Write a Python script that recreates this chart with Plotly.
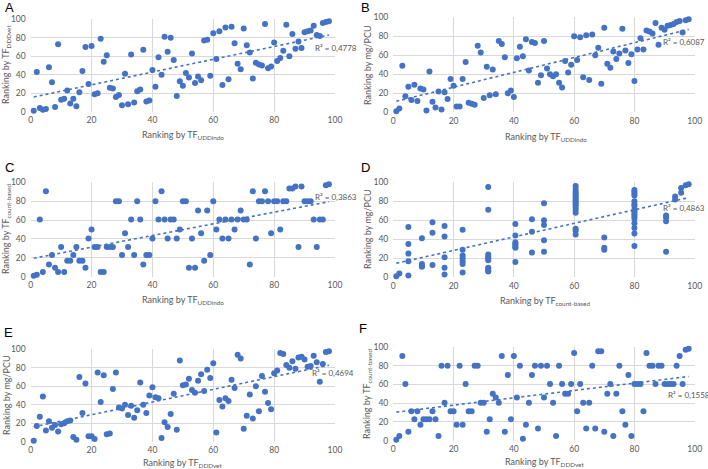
import numpy as np
import plotly.graph_objects as go

# ---------------- data ----------------
rank_x = [1, 2, 3, 4, 5, 6, 7, 8, 9, 10, 11, 12, 13, 14, 15, 16, 17, 18, 19, 20,
          21, 22, 23, 24, 25, 26, 27, 28, 29, 30, 31, 32, 33, 34, 35, 36, 37, 38, 39, 40,
          41, 42, 43, 44, 45, 46, 47, 48, 49, 50, 51, 52, 53, 54, 55, 56, 57, 58, 59, 60,
          61, 62, 63, 64, 65, 66, 67, 68, 69, 70, 71, 72, 73, 74, 75, 76, 77, 78, 79, 80,
          81, 82, 83, 84, 85, 86, 87, 88, 89, 90, 91, 92, 93, 94, 95, 96, 97, 98]

A_y = [1, 43, 4, 2, 3, 48, 32, 5, 73, 13, 14, 23, 9, 14, 6, 21, 44, 70, 30, 71,
       19, 20, 79, 54, 61, 26, 25, 16, 18, 7, 41, 8, 62, 10, 22, 24, 67, 11, 12, 45,
       27, 59, 40, 81, 65, 80, 56, 17, 33, 28, 42, 37, 63, 31, 38, 34, 77, 78, 39, 85,
       57, 87, 29, 91, 35, 92, 74, 52, 46, 90, 72, 64, 36, 53, 51, 50, 95, 47, 49, 75,
       55, 58, 66, 94, 60, 84, 68, 76, 69, 86, 87, 88, 93, 83, 82, 96, 97, 98]

B_y = [1, 4, 49, 17, 27, 13, 29, 12, 25, 24, 2, 43, 11, 5, 22, 3, 21, 14, 35, 28,
       6, 6, 35, 53, 10, 9, 8, 70, 63, 15, 48, 18, 45, 19, 75, 72, 58, 20, 23, 16,
       57, 69, 59, 77, 44, 74, 73, 31, 39, 75, 46, 40, 38, 40, 31, 26, 54, 42, 50, 80,
       55, 79, 37, 81, 34, 82, 60, 68, 30, 89, 51, 47, 64, 56, 62, 88, 65, 52, 61, 33,
       66, 78, 66, 86, 85, 83, 94, 71, 89, 87, 91, 92, 93, 95, 96, 84, 97, 98]

C_y = [1, 2, 60.5, 5, 90.5, 13, 23, 9.5, 5, 31.5, 5, 17, 17, 23, 31.5, 17, 17, 9.5, 40.5, 50,
       31.5, 31.5, 5, 5, 31.5, 31.5, 31.5, 80, 80, 23, 46, 31.5, 60.5, 23, 80, 60.5, 13, 23, 23, 40.5,
       80, 60.5, 90.5, 60.5, 40.5, 60.5, 60.5, 40.5, 50, 80, 80, 9.5, 40.5, 9.5, 70, 46, 17, 70, 23, 80,
       50, 60.5, 40.5, 60.5, 40.5, 60.5, 50, 60.5, 70, 60.5, 60.5, 13, 90.5, 40.5, 80, 80, 90.5, 80, 46, 80,
       80, 50, 80, 80, 93.5, 93.5, 95.5, 31.5, 95.5, 80, 80, 80, 60.5, 31.5, 60.5, 60.5, 97, 98]

D_x = [1, 2,
       5, 5, 5, 5, 5,
       9.5, 9.5, 9.5, 9.5,
       13, 13, 13,
       17, 17, 17, 17, 17,
       23, 23, 23, 23, 23, 23, 23,
       31.5, 31.5, 31.5, 31.5, 31.5, 31.5, 31.5, 31.5, 31.5, 31.5,
       40.5, 40.5, 40.5, 40.5, 40.5, 40.5, 40.5, 40.5,
       46, 46, 46,
       50, 50, 50, 50, 50,
       60.5, 60.5, 60.5, 60.5, 60.5, 60.5, 60.5, 60.5, 60.5, 60.5, 60.5, 60.5, 60.5, 60.5, 60.5, 60.5,
       70, 70, 70,
       80, 80, 80, 80, 80, 80, 80, 80, 80, 80, 80, 80, 80, 80, 80, 80, 80,
       90.5, 90.5, 90.5, 90.5,
       93.5, 93.5,
       95.5, 95.5,
       97, 98]
D_y = [1, 4,
       53, 35, 25, 17, 2,
       41, 14, 12, 11,
       58, 47, 13,
       54, 43, 21, 10, 3,
       50, 29, 23, 20, 17, 14, 5,
       95, 71, 24, 22, 20, 18, 10, 9, 7, 6,
       56, 44, 37, 35, 34, 32, 31, 16,
       61, 48, 26,
       78, 60, 55, 39, 27,
       96, 93, 90, 88, 86, 84, 82, 80, 78, 76, 74, 71, 68, 51, 49, 45,
       42, 31, 29,
       92, 90, 88, 86, 80, 77, 75, 71, 70, 68, 66, 64, 62, 57, 52, 46, 33,
       65, 63, 59, 27,
       85, 82,
       94, 89,
       97, 98]

E_y = [1, 17, 27, 49, 12, 22, 15, 18, 11, 19, 20, 22, 23, 5, 2, 70, 31, 63, 6, 6,
       3, 75, 43, 72, 8, 9, 57, 75, 37, 36, 40, 29, 39, 26, 34, 64, 40, 31, 50, 59,
       48, 47, 4, 21, 16, 30, 52, 13, 88, 61, 62, 68, 56, 53, 66, 73, 55, 78, 69, 85,
       10, 45, 38, 47, 44, 67, 58, 94, 90, 14, 28, 51, 25, 60, 33, 71, 54, 42, 35, 74,
       77, 96, 95, 83, 80, 87, 79, 91, 92, 89, 81, 82, 93, 86, 65, 84, 97, 98]

F_y = [1, 5, 90.5, 60.5, 9.5, 31.5, 23, 31.5, 17, 23, 23, 23, 31.5, 23, 5, 80, 40.5, 80, 31.5, 31.5,
       17, 80, 17, 60.5, 31.5, 31.5, 80, 80, 40.5, 40.5, 9.5, 23, 50, 46, 40.5, 90.5, 9.5, 70, 23, 90.5,
       46, 80, 2, 17, 40.5, 70, 80, 13, 80, 46, 80, 60.5, 40.5, 5, 80, 60.5, 50, 50, 60.5, 93.5,
       31.5, 60.5, 40.5, 13, 40.5, 80, 13, 95.5, 95.5, 9.5, 50, 60.5, 5, 50, 80, 31.5, 17, 70, 5, 60.5,
       60.5, 60.5, 31.5, 93.5, 80, 80, 60.5, 80, 80, 60.5, 60.5, 60.5, 60.5, 80, 90.5, 60.5, 97, 98]

r2_labels = ["R² = 0,4778", "R² = 0,6087", "R² = 0,3863", "R² = 0,4863", "R² = 0,4694", "R² = 0,1558"]
panel_letters = ["A", "B", "C", "D", "E", "F"]
x_titles = ["Ranking by TF<sub>UDDindo</sub>", "Ranking by TF<sub>UDDindo</sub>",
            "Ranking by TF<sub>UDDindo</sub>", "Ranking by TF<sub>count-based</sub>",
            "Ranking by TF<sub>DDDvet</sub>", "Ranking by TF<sub>DDDvet</sub>"]
y_titles = ["Ranking by TF<sub>DDDvet</sub>", "Ranking by mg/PCU",
            "Ranking by TF<sub>count-based</sub>", "Ranking by mg/PCU",
            "Ranking by mg/PCU", "Ranking by TF<sub>count-based</sub>"]
tick_vals = [0, 20, 40, 60, 80, 100]

series = [(rank_x, A_y), (rank_x, B_y), (rank_x, C_y), (D_x, D_y), (rank_x, E_y), (rank_x, F_y)]

# ---------------- layout geometry (pixels) ----------------
W, H = 708, 469
boxes = [(30.7, 335, 19.3, 111.7), (393.3, 694.7, 17.3, 112.3),
         (30.7, 335, 182.3, 276.7), (393.3, 694.7, 182.3, 277.3),
         (30.7, 335, 349.3, 441.7), (393.3, 694.7, 347, 440.7)]
letter_pos = [(9, 7), (365, 7), (9, 167), (365, 168), (8, 332), (363, 328)]
# (x, y, anchor) of R² labels
r2_pos = [(313, 48, "left"), (707, 42, "right"), (313, 197, "left"),
          (707, 208, "right"), (310, 373, "left"), (666, 395, "left")]
xt_pos = [(183, 135), (546, 137), (183, 300), (545, 301), (183, 463), (544, 462)]
yt_pos = [(6, 65), (367, 65), (6, 229), (367, 229), (6, 395), (367, 394)]

BLUE = "#4472C4"
GREY = "#595959"
FONT = "Lato"


def px(x):
    return x / W


def py(y):
    return 1 - y / H


fig = go.Figure()
annotations = []
layout = {}
for i, (xs, ys) in enumerate(series):
    n = "" if i == 0 else str(i + 1)
    xa, ya = "x" + n, "y" + n
    l, r, t, b = boxes[i]
    xs_a = np.array(xs, dtype=float)
    ys_a = np.array(ys, dtype=float)
    fig.add_trace(go.Scatter(x=xs, y=ys, mode="markers", xaxis=xa, yaxis=ya,
                             marker=dict(color=BLUE, size=6), cliponaxis=False,
                             showlegend=False, hoverinfo="skip"))
    slope, intercept = np.polyfit(xs_a, ys_a, 1)
    lx = np.array([xs_a.min(), xs_a.max()])
    fig.add_trace(go.Scatter(x=lx, y=slope * lx + intercept, mode="lines",
                             xaxis=xa, yaxis=ya,
                             line=dict(color=BLUE, width=1.6, dash="dot"),
                             showlegend=False, hoverinfo="skip"))
    axis_common = dict(range=[0, 100], tickvals=tick_vals, showgrid=True,
                       gridcolor="#d9d9d9", gridwidth=1, zeroline=False,
                       showline=False, ticks="", automargin=False,
                       tickfont=dict(family=FONT, size=8.5, color=GREY))
    layout["xaxis" + n] = dict(domain=[px(l), px(r)], anchor=ya, ticklabelstandoff=2,
                               **axis_common)
    layout["yaxis" + n] = dict(domain=[py(b), py(t)], anchor=xa, ticklabelstandoff=4,
                               **axis_common)
    annotations.append(dict(text=panel_letters[i], x=px(letter_pos[i][0]), y=py(letter_pos[i][1]),
                            xref="paper", yref="paper", showarrow=False,
                            font=dict(family="Liberation Sans", size=13, color="black"),
                            xanchor="center", yanchor="middle"))
    rx, ry, ranchor = r2_pos[i]
    annotations.append(dict(text=r2_labels[i], x=px(rx), y=py(ry),
                            xref="paper", yref="paper", showarrow=False,
                            font=dict(family=FONT, size=8, color=GREY),
                            xanchor=ranchor, yanchor="middle"))
    annotations.append(dict(text=x_titles[i], x=px(xt_pos[i][0]), y=py(xt_pos[i][1]),
                            xref="paper", yref="paper", showarrow=False,
                            font=dict(family=FONT, size=9, color=GREY),
                            xanchor="center", yanchor="middle"))
    annotations.append(dict(text=y_titles[i], x=px(yt_pos[i][0]), y=py(yt_pos[i][1]),
                            xref="paper", yref="paper", showarrow=False, textangle=-90,
                            font=dict(family=FONT, size=9, color=GREY),
                            xanchor="center", yanchor="middle"))

fig.update_layout(width=W, height=H, margin=dict(l=0, r=0, t=0, b=0, autoexpand=False),
                  plot_bgcolor="white", paper_bgcolor="white", hovermode=False,
                  annotations=annotations, **layout)

fig.write_html("out.html", config={"displayModeBar": False},
               post_script="document.body.style.margin='0px';document.body.style.overflow='hidden';")
